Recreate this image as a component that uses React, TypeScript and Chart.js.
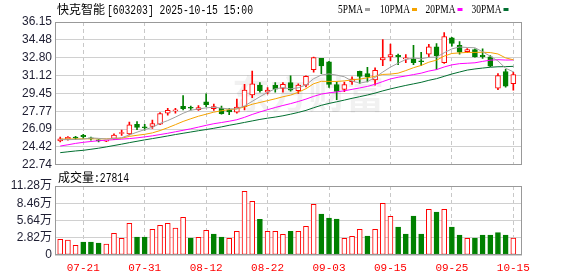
import React, { useEffect, useRef } from 'react';
import { Chart, registerables } from 'chart.js';

Chart.register(...registerables);

const stockName = '快克智能';
const stockCode = '603203';
const timestamp = '2025-10-15 15:00';

const dates = [
  '07-16', '07-17', '07-18', '07-21', '07-22', '07-23', '07-24', '07-25', '07-28', '07-29',
  '07-30', '07-31', '08-01', '08-04', '08-05', '08-06', '08-07', '08-08', '08-11', '08-12',
  '08-13', '08-14', '08-15', '08-18', '08-19', '08-20', '08-21', '08-22', '08-25', '08-26',
  '08-27', '08-28', '08-29', '09-01', '09-02', '09-03', '09-04', '09-05', '09-08', '09-09',
  '09-10', '09-11', '09-12', '09-15', '09-16', '09-17', '09-18', '09-19', '09-22', '09-23',
  '09-24', '09-25', '09-26', '09-29', '09-30', '10-09', '10-10', '10-13', '10-14', '10-15',
];

const opens = [
  24.98, 25.15, 25.33, 25.5, 25.25, 25.08, 24.96, 25.22, 25.68, 25.65,
  26.55, 26.28, 26.35, 26.55, 27.6, 27.8, 28.22, 28.1, 27.92, 28.65,
  28.0, 28.05, 27.9, 27.68, 28.2, 29.3, 30.22, 29.55, 30.2, 29.92,
  30.45, 29.7, 30.22, 31.68, 32.73, 32.4, 30.28, 29.82, 30.55, 31.52,
  31.3, 30.7, 32.58, 32.88, 33.03, 32.68, 32.7, 32.5, 33.13, 33.82,
  32.32, 34.67, 33.95, 33.36, 33.57, 33.03, 32.88, 29.93, 31.5, 30.37,
];
const highs = [
  25.35, 25.4, 25.42, 25.6, 25.35, 25.12, 25.03, 25.65, 26.0, 26.75,
  26.8, 26.55, 26.95, 27.65, 28.05, 28.05, 29.25, 28.25, 28.3, 29.4,
  28.45, 28.25, 28.05, 28.9, 30.3, 31.55, 30.47, 29.98, 30.45, 30.47,
  31.1, 30.35, 31.1, 32.85, 32.75, 32.45, 30.5, 30.5, 31.0, 31.55,
  31.9, 31.85, 34.5, 34.07, 33.13, 33.1, 33.95, 33.3, 34.05, 34.13,
  35.15, 34.7, 34.3, 33.65, 33.62, 33.63, 33.0, 31.3, 31.7, 31.43,
];
const lows = [
  24.88, 25.05, 25.1, 25.2, 25.05, 24.88, 24.92, 25.1, 25.5, 25.55,
  26.05, 26.0, 26.15, 26.5, 27.4, 27.6, 27.9, 27.9, 27.85, 28.2,
  27.85, 27.5, 27.45, 27.6, 27.9, 29.05, 29.55, 29.4, 29.55, 29.55,
  29.65, 29.45, 30.05, 31.45, 31.3, 30.0, 28.85, 29.6, 30.28, 30.38,
  30.53, 30.22, 32.05, 32.5, 32.15, 32.32, 32.15, 32.05, 32.88, 31.7,
  32.25, 33.88, 33.12, 33.28, 32.85, 32.72, 31.95, 29.8, 30.02, 29.75,
];
const closes = [
  25.18, 25.33, 25.25, 25.38, 25.18, 24.98, 25.0, 25.52, 25.74, 26.5,
  26.25, 26.22, 26.6, 27.55, 27.85, 27.88, 28.0, 28.05, 28.12, 28.38,
  28.2, 27.55, 27.7, 28.15, 29.75, 30.35, 29.7, 29.75, 29.85, 30.3,
  29.75, 30.22, 31.05, 32.8, 32.02, 30.3, 29.63, 30.28, 30.78, 31.05,
  31.0, 31.62, 32.8, 33.1, 32.9, 32.72, 32.32, 32.42, 33.82, 32.98,
  34.77, 34.13, 33.32, 33.57, 32.88, 32.9, 32.0, 31.12, 30.12, 31.22,
];

const volumes = [
  25700, 24500, 15800, 21200, 21200, 19600, 18000, 35400, 27200, 51700,
  29400, 29400, 41900, 48500, 51700, 44100, 61600, 27800, 28800, 40300,
  34300, 29400, 27200, 38700, 104000, 87700, 58300, 38700, 38700, 33800,
  38700, 38700, 46800, 82800, 67000, 60500, 58800, 27200, 30500, 41900,
  31000, 41900, 84400, 63200, 45700, 34300, 63700, 34300, 74600, 70300,
  74600, 45700, 32700, 27200, 27800, 32700, 32700, 36500, 32700, 27814,
];
// 1 = red (hollow) volume bar, 0 = green (filled)
const volumeUp = [
  1, 1, 1, 0, 0, 0, 1, 1, 1, 1,
  0, 0, 1, 1, 1, 1, 1, 0, 1, 1,
  0, 0, 1, 1, 1, 1, 0, 1, 1, 1,
  0, 1, 1, 1, 0, 0, 0, 1, 1, 1,
  0, 1, 1, 1, 0, 0, 0, 0, 1, 0,
  1, 0, 0, 1, 0, 0, 0, 0, 0, 1,
];

const ma5Head = [25.1, 25.1, 25.12, 25.15];
const ma10Head = [25.15, 25.16, 25.17, 25.18, 25.18, 25.18, 25.18, 25.2, 25.24];
const ma20Head = [
  24.5, 24.62, 24.75, 24.85, 24.93, 25.0, 25.05, 25.1, 25.15, 25.2,
  25.27, 25.36, 25.46, 25.58, 25.7, 25.84, 25.98, 26.12, 26.28,
];
const ma30Head = [
  23.88, 23.96, 24.04, 24.1, 24.2, 24.3, 24.42, 24.55, 24.68, 24.82,
  24.95, 25.08, 25.2, 25.32, 25.45, 25.58, 25.7, 25.82, 25.94, 26.05,
  26.17, 26.3, 26.45, 26.58, 26.72, 26.86, 27.0, 27.12, 27.22,
];

const priceTicks = [22.74, 24.42, 26.09, 27.77, 29.45, 31.12, 32.8, 34.48, 36.15];
const volumeTicks = [0, 28200, 56400, 84600, 112800];
const volumeTickLabels = ['0', '2.82万', '5.64万', '8.46万', '11.28万'];
const xTickDates = ['07-21', '07-31', '08-12', '08-22', '09-03', '09-15', '09-25', '10-15'];

const legendItems = [
  { label: '5PMA', color: '#a0a0a0' },
  { label: '10PMA', color: '#f5a300' },
  { label: '20PMA', color: '#ff00ff' },
  { label: '30PMA', color: '#006f30' },
];

const RED = '#ff0000';
const GREEN = '#008000';

function movingAverage(n: number, head: number[]) {
  return closes.map((_, i) => {
    if (i < n - 1) return head[i];
    let s = 0;
    for (let k = i - n + 1; k <= i; k++) s += closes[k];
    return s / n;
  });
}

export default function App() {
  const topRef = useRef<HTMLCanvasElement>(null);
  const botRef = useRef<HTMLCanvasElement>(null);

  useEffect(() => {
    const idx = dates.map((_, i) => i);
    const up = closes.map((c, i) => c >= opens[i]);
    const xMin = -0.68;
    const xMax = 60.13;
    const tickIdx = xTickDates.map((d) => dates.indexOf(d));
    const yFont = '"Liberation Sans", "Noto Sans CJK SC", sans-serif';
    const mas = [
      movingAverage(5, ma5Head),
      movingAverage(10, ma10Head),
      movingAverage(20, ma20Head),
      movingAverage(30, ma30Head),
    ];

    const frame = {
      id: 'frame',
      afterDraw(chart: any) {
        const { ctx, chartArea: a } = chart;
        ctx.save();
        ctx.strokeStyle = '#999999';
        ctx.lineWidth = 1;
        ctx.strokeRect(Math.round(a.left) + 0.5, Math.round(a.top) + 0.5, Math.round(a.right - a.left) - 1, Math.round(a.bottom - a.top) - 1);
        ctx.restore();
      },
    };

    const topOverlay = {
      id: 'topOverlay',
      beforeDatasetsDraw(chart: any) {
        const { ctx } = chart;
        ctx.save();
        ctx.font = 'bold 38px "Noto Sans CJK SC"';
        ctx.fillStyle = 'rgba(0,0,0,0.055)';
        ctx.textBaseline = 'alphabetic';
        ctx.fillText('东方财富', 232, 108);
        ctx.restore();
      },
      afterDraw(chart: any) {
        const { ctx } = chart;
        ctx.save();
        ctx.fillStyle = '#000';
        ctx.textBaseline = 'alphabetic';
        ctx.font = '12px "Noto Sans CJK SC"';
        ctx.fillText(stockName, 57, 14);
        ctx.font = '12px "Liberation Mono"';
        ctx.fillText(`[${stockCode}] ${timestamp}`, 107, 14, 146);
        const lx = [338, 380, 425.5, 471.5];
        const lw = [25, 30, 30, 30];
        ctx.font = '12px "Liberation Serif"';
        legendItems.forEach((it, k) => {
          ctx.fillStyle = '#000';
          ctx.fillText(it.label, lx[k], 13, lw[k]);
          ctx.fillStyle = it.color;
          ctx.fillRect(lx[k] + lw[k] + 2, 8, 5, 3);
        });
        ctx.restore();
      },
    };

    const xScale = (showLabels: boolean) => ({
      type: 'linear',
      min: xMin,
      max: xMax,
      offset: false,
      afterBuildTicks: (a: any) => {
        a.ticks = tickIdx.map((v) => ({ value: v }));
      },
      ...(showLabels
        ? {
            afterFit: (a: any) => {
              a.height = 21;
            },
          }
        : {}),
      ticks: showLabels
        ? {
            callback: (v: any) => dates[Math.round(Number(v))],
            color: RED,
            font: { size: 11, family: '"Liberation Mono", monospace' },
            padding: 6,
            maxRotation: 0,
            autoSkip: false,
          }
        : { display: false },
      grid: { color: '#c8c8c8', drawTicks: false, lineWidth: 1, offset: false },
      border: { display: false, dash: [4, 3] },
    });

    const top = new Chart(topRef.current as HTMLCanvasElement, {
      type: 'bar',
      data: {
        datasets: [
          ...mas.map((m, k) => ({
            type: 'line' as const,
            label: legendItems[k].label,
            data: idx.map((i) => ({ x: i, y: m[i] })),
            borderColor: legendItems[k].color,
            borderWidth: 1,
            pointRadius: 0,
            tension: 0,
            order: 0,
          })),
          {
            type: 'bar' as const,
            label: 'body',
            data: idx.map((i) => ({ x: i, y: [opens[i], closes[i]] })),
            backgroundColor: up.map((u) => (u ? '#ffffff' : GREEN)),
            borderColor: up.map((u) => (u ? RED : GREEN)),
            borderWidth: 1,
            borderSkipped: false,
            barThickness: 5,
            minBarLength: 1,
            grouped: false,
            order: 1,
          },
          {
            type: 'bar' as const,
            label: 'wick',
            data: idx.map((i) => ({ x: i, y: [lows[i], highs[i]] })),
            backgroundColor: up.map((u) => (u ? RED : GREEN)),
            borderWidth: 0,
            barThickness: 1,
            grouped: false,
            order: 2,
          },
        ] as any,
      },
      options: {
        animation: false,
        responsive: false,
        events: [],
        layout: { padding: { left: 0, right: 56, top: 22, bottom: 10 } },
        plugins: { legend: { display: false }, tooltip: { enabled: false } },
        scales: {
          x: xScale(false),
          y: {
            type: 'linear',
            min: 22.74,
            max: 36.15,
            afterBuildTicks: (a: any) => {
              a.ticks = priceTicks.map((v) => ({ value: v }));
            },
            afterFit: (a: any) => {
              a.width = 55;
            },
            ticks: {
              callback: (v: any) => Number(v).toFixed(2),
              color: '#1e1e32',
              font: { size: 12, family: yFont },
              padding: 3,
              autoSkip: false,
            },
            grid: { color: '#d0d0d0', drawTicks: false },
            border: { display: false },
          },
        },
      } as any,
      plugins: [topOverlay, frame],
    });

    const botOverlay = {
      id: 'botOverlay',
      afterDraw(chart: any) {
        const { ctx } = chart;
        ctx.save();
        ctx.fillStyle = '#000';
        ctx.textBaseline = 'alphabetic';
        ctx.font = '12px "Noto Sans CJK SC"';
        ctx.fillText('成交量', 58, 12);
        ctx.font = '12px "Liberation Mono"';
        ctx.fillText(`:${volumes[volumes.length - 1]}`, 94, 12, 35);
        ctx.restore();
      },
    };

    const bot = new Chart(botRef.current as HTMLCanvasElement, {
      type: 'bar',
      data: {
        datasets: [
          {
            label: 'volume',
            data: idx.map((i) => ({ x: i, y: volumes[i] })),
            backgroundColor: volumeUp.map((u) => (u ? '#ffffff' : GREEN)),
            borderColor: volumeUp.map((u) => (u ? RED : GREEN)),
            borderWidth: 1,
            borderSkipped: false,
            barThickness: 5,
          },
        ] as any,
      },
      options: {
        animation: false,
        responsive: false,
        events: [],
        layout: { padding: { left: 0, right: 56, top: 16, bottom: 0 } },
        plugins: { legend: { display: false }, tooltip: { enabled: false } },
        scales: {
          x: xScale(true),
          y: {
            type: 'linear',
            min: 0,
            max: 112800,
            afterBuildTicks: (a: any) => {
              a.ticks = volumeTicks.map((v) => ({ value: v }));
            },
            afterFit: (a: any) => {
              a.width = 55;
            },
            ticks: {
              callback: (v: any) => volumeTickLabels[volumeTicks.indexOf(Number(v))],
              color: '#1e1e32',
              font: { size: 12, family: yFont },
              padding: 3,
              autoSkip: false,
            },
            grid: { color: '#d0d0d0', drawTicks: false },
            border: { display: false },
          },
        },
      } as any,
      plugins: [botOverlay, frame],
    });

    return () => {
      top.destroy();
      bot.destroy();
    };
  }, []);

  return (
    <div style={{ position: 'absolute', left: 0, top: 0, width: 578, height: 276, background: '#fff' }}>
      <canvas ref={topRef} width={578} height={175} style={{ position: 'absolute', left: 0, top: 0 }} />
      <canvas ref={botRef} width={578} height={106} style={{ position: 'absolute', left: 0, top: 170 }} />
    </div>
  );
}
